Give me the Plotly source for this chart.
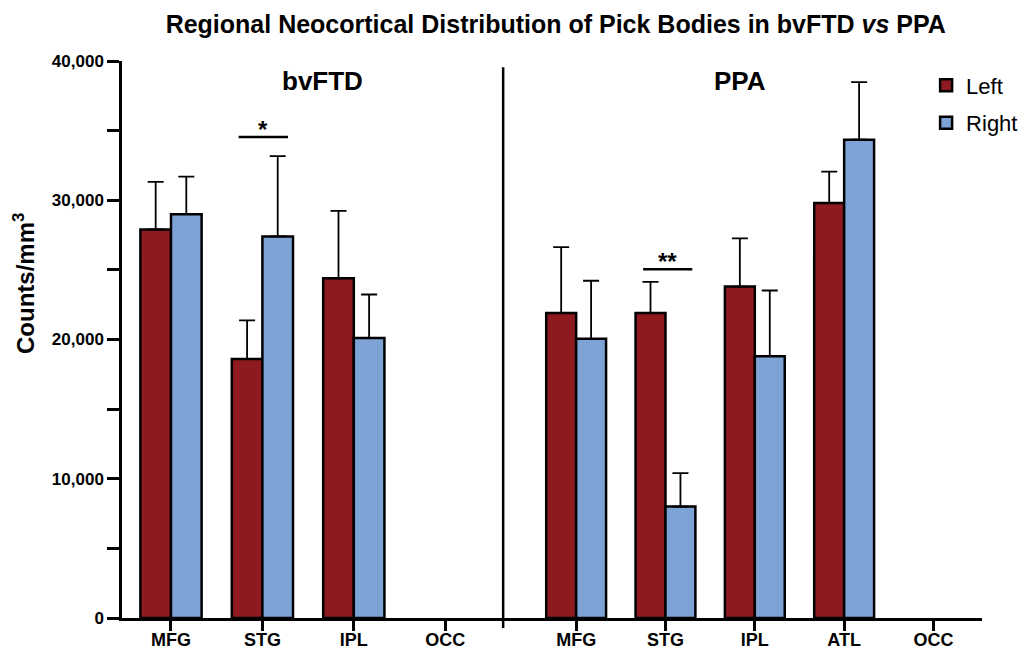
import plotly.graph_objects as go
from plotly.subplots import make_subplots

# ---- data ----
cats_bvftd = ["MFG", "STG", "IPL", "OCC"]
bvftd_left = [27900, 18600, 24400, None]
bvftd_left_err = [3420, 2780, 4830, None]
bvftd_right = [29000, 27400, 20100, None]
bvftd_right_err = [2700, 5770, 3130, None]

cats_ppa = ["MFG", "STG", "IPL", "ATL", "OCC"]
ppa_left = [21900, 21900, 23800, 29800, None]
ppa_left_err = [4740, 2240, 3460, 2250, None]
ppa_right = [20050, 8000, 18800, 34350, None]
ppa_right_err = [4170, 2400, 4720, 4140, None]

y_ticks = [0, 10000, 20000, 30000, 40000]

RED = "#8E1A20"
BLUE = "#7DA3D6"
FONT = "Liberation Sans, Arial, sans-serif"

fig = make_subplots(rows=1, cols=2, shared_yaxes=True, horizontal_spacing=0,
                    column_widths=[0.4432, 0.5568])


def add_bar(cats, vals, errs, color, name, col, show):
    fig.add_trace(go.Bar(
        x=cats, y=vals, name=name, marker=dict(color=color, line=dict(color="black", width=2.5)),
        error_y=dict(type="data", array=[e if e is not None else 0 for e in errs],
                     arrayminus=[0] * len(errs), symmetric=False,
                     color="black", thickness=1.8, width=8),
        showlegend=show, legendgroup=name, hoverinfo="skip",
    ), row=1, col=col)


add_bar(cats_bvftd, bvftd_left, bvftd_left_err, RED, "Left", 1, True)
add_bar(cats_bvftd, bvftd_right, bvftd_right_err, BLUE, "Right", 1, True)
add_bar(cats_ppa, ppa_left, ppa_left_err, RED, "Left", 2, False)
add_bar(cats_ppa, ppa_right, ppa_right_err, BLUE, "Right", 2, False)

axis_common = dict(showline=True, linecolor="black", linewidth=2.5, ticks="outside",
                   ticklen=10, tickwidth=2.5, tickcolor="black", showgrid=False,
                   tickfont=dict(family=FONT, size=18, color="black", weight="bold"),
                   zeroline=False, automargin=False, ticklabelstandoff=-6)

fig.update_xaxes(**axis_common)
fig.update_xaxes(range=[-0.536, 3.634], row=1, col=1)
fig.update_xaxes(range=[-0.817, 4.543], row=1, col=2)

fig.update_yaxes(range=[0, 40000], tickvals=y_ticks, tickformat=",", showline=True,
                 linecolor="black", linewidth=2.5, ticks="outside", ticklen=12, tickwidth=2.5,
                 tickcolor="black", showgrid=False, zeroline=False, automargin=False,
                 minor=dict(dtick=5000, ticks="outside", ticklen=12, tickwidth=2.5, tickcolor="black"),
                 tickfont=dict(family=FONT, size=17, color="black", weight="bold"),
                 row=1, col=1)
fig.update_yaxes(showline=False, ticks="", showticklabels=False, showgrid=False,
                 zeroline=False, automargin=False, row=1, col=2)

# y-axis title
fig.add_annotation(xref="x domain", yref="y domain", x=(24 - 122) / 381, y=(618 - 283) / 557,
                   xanchor="center", yanchor="middle",
                   text="<b>Counts/mm<sup>3</sup></b>", showarrow=False, textangle=-90,
                   font=dict(family=FONT, size=24, color="black"))

# divider line between groups
fig.add_shape(type="line", xref="x2 domain", yref="paper", x0=0, x1=0, y0=-0.018, y1=0.989,
              line=dict(color="black", width=2.5))

# significance bars
fig.add_shape(type="line", xref="x", yref="y", x0=0.74, x1=1.28, y0=34550, y1=34550,
              line=dict(color="black", width=2.5))
fig.add_annotation(x=1.01, y=35100, xref="x", yref="y", text="<b>*</b>", showarrow=False,
                   yanchor="middle", font=dict(family=FONT, size=24, color="black"))
fig.add_shape(type="line", xref="x2", yref="y", x0=0.75, x1=1.30, y0=25050, y1=25050,
              line=dict(color="black", width=2.5))
fig.add_annotation(x=1.02, y=25600, xref="x2", yref="y", text="<b>**</b>", showarrow=False,
                   yanchor="middle", font=dict(family=FONT, size=24, color="black"))

# panel labels
fig.add_annotation(x=0.525, y=38600, xref="x domain", yref="y", text="<b>bvFTD</b>", showarrow=False,
                   font=dict(family=FONT, size=26, color="black"))
fig.add_annotation(x=0.495, y=38600, xref="x2 domain", yref="y", text="<b>PPA</b>", showarrow=False,
                   font=dict(family=FONT, size=26, color="black"))

fig.update_layout(
    width=1033, height=649,
    margin=dict(l=122, r=51, t=61, b=31, autoexpand=False),
    paper_bgcolor="white", plot_bgcolor="white",
    barmode="group", bargap=0.33, bargroupgap=0,
    title=dict(text="<b>Regional Neocortical Distribution of Pick Bodies in bvFTD <i>vs</i> PPA</b>",
               x=0.538, xanchor="center", y=0.963, yanchor="middle", automargin=False,
               font=dict(family=FONT, size=25, color="black")),
    legend=dict(x=0.935, y=0.994, xanchor="left", yanchor="top", bgcolor="rgba(0,0,0,0)",
                font=dict(family=FONT, size=22, color="black"), itemwidth=30,
                tracegroupgap=6),
    showlegend=True,
)

fig.write_html("out.html", config={"displayModeBar": False},
               post_script="document.body.style.margin='0';")
